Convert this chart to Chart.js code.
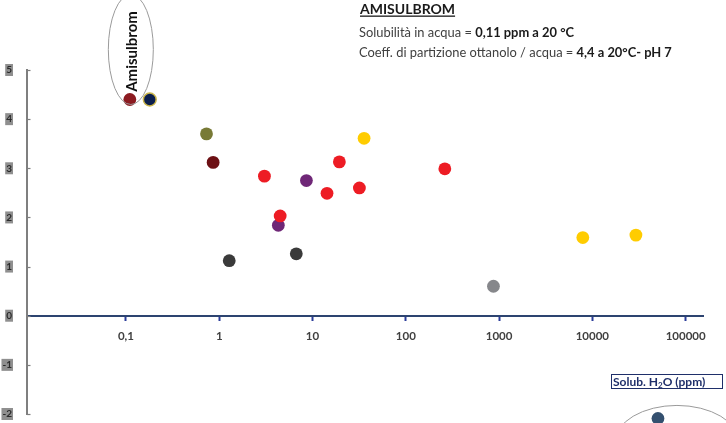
<!DOCTYPE html>
<html>
<head>
<meta charset="utf-8">
<script src="https://cdn.jsdelivr.net/npm/chart.js@4/dist/chart.umd.min.js"></script>
<style>
  html, body { margin: 0; padding: 0; background: #ffffff; }
  #wrap { width: 726px; height: 423px; position: relative; }
</style>
</head>
<body>
<div id="wrap"><canvas id="c" width="726" height="423"></canvas></div>
<script>
// Water solubility (ppm, log scale) against log Kow, one series per marker colour
const amisulbromX = [0.11];
const amisulbromY = [4.4];
const navyX = [0.18];
const navyY = [4.4];
const oliveX = [0.73];
const oliveY = [3.7];
const maroonX = [0.86];
const maroonY = [3.12];
const redX = [3.05, 4.5, 14.3, 19.4, 31.8, 262];
const redY = [2.84, 2.03, 2.49, 3.13, 2.6, 2.99];
const purpleX = [4.3, 8.6];
const purpleY = [1.84, 2.75];
const darkGreyX = [1.28, 6.7];
const darkGreyY = [1.12, 1.26];
const yellowX = [35.7, 7900, 29300];
const yellowY = [3.61, 1.59, 1.64];
const greyX = [870];
const greyY = [0.6];
const lowX = [50500];
const lowY = [-2.09];

const xTickValues = [0.1, 1, 10, 100, 1000, 10000, 100000];
const yMin = -2, yMax = 5;

const FONT = 'Lato, "Open Sans", sans-serif';

function pts(xs, ys) { return xs.map((x, i) => ({ x: x, y: ys[i] })); }
function series(label, xs, ys, color, extra) {
  return Object.assign({
    label: label,
    data: pts(xs, ys),
    backgroundColor: color,
    borderColor: color,
    borderWidth: 0,
    pointRadius: 6.4,
    pointHoverRadius: 6.4
  }, extra || {});
}

// Ellipses, callout text and the header block
const notes = {
  id: 'notes',
  afterDatasetsDraw(chart) {
    const ctx = chart.ctx;
    const xs = chart.scales.x, ys = chart.scales.y;

    // Amisulbrom callout
    const ax = xs.getPixelForValue(amisulbromX[0]);
    const ay = ys.getPixelForValue(amisulbromY[0]);
    ctx.save();
    ctx.strokeStyle = '#9a9a9a';
    ctx.lineWidth = 1;
    ctx.beginPath();
    ctx.ellipse(ax + 1, ay - 50, 22.5, 55, 0, 0, Math.PI * 2);
    ctx.stroke();
    ctx.translate(ax + 7, ay - 48);
    ctx.rotate(-Math.PI / 2);
    ctx.fillStyle = '#111111';
    ctx.font = 'bold 15px ' + FONT;
    ctx.textAlign = 'center';
    ctx.textBaseline = 'alphabetic';
    ctx.fillText('Amisulbrom', 0, 0);
    ctx.restore();

    // ellipse round the low point
    const lx = xs.getPixelForValue(lowX[0]);
    const ly = ys.getPixelForValue(lowY[0]);
    ctx.save();
    ctx.strokeStyle = '#9a9a9a';
    ctx.lineWidth = 1;
    ctx.beginPath();
    ctx.ellipse(lx + 19, ly + 24, 62, 37, 0, 0, Math.PI * 2);
    ctx.stroke();
    ctx.restore();

    // axis caption box
    ctx.save();
    ctx.strokeStyle = '#1f2f6a';
    ctx.lineWidth = 1;
    ctx.strokeRect(611.5, 374.5, 111, 14);
    ctx.fillStyle = '#1f2f6a';
    ctx.textBaseline = 'alphabetic';
    ctx.textAlign = 'left';
    ctx.font = 'bold 12px ' + FONT;
    let tx = 613;
    const by = 385.5;
    ctx.fillText('Solub. H', tx, by);
    tx += ctx.measureText('Solub. H').width;
    ctx.font = 'bold 8px ' + FONT;
    ctx.fillText('2', tx, by + 2.5);
    tx += ctx.measureText('2').width;
    ctx.font = 'bold 12px ' + FONT;
    ctx.fillText('O (ppm)', tx, by);
    ctx.restore();

    // header
    ctx.save();
    ctx.textAlign = 'left';
    ctx.textBaseline = 'alphabetic';
    ctx.fillStyle = '#1a1a1a';
    ctx.font = 'bold 14px ' + FONT;
    const t = 'AMISULBROM';
    ctx.fillText(t, 360, 13.5);
    const tw = ctx.measureText(t).width;
    ctx.fillRect(360, 15.5, tw, 1.3);

    function mixed(parts, x, y) {
      parts.forEach(p => {
        ctx.font = (p[1] ? 'bold ' : '') + '12.9px ' + FONT;
        ctx.fillStyle = p[1] ? '#1a1a1a' : '#404040';
        ctx.fillText(p[0], x, y);
        x += ctx.measureText(p[0]).width;
      });
    }
    mixed([['Solubilit\u00e0 in acqua = ', false], ['0,11 ppm a 20 \u00b0C', true]], 359, 36.5);
    mixed([['Coeff. di partizione ottanolo / acqua = ', false], ['4,4 a 20\u00b0C- pH 7', true]], 359, 56.5);
    ctx.restore();
  },
  afterDraw(chart) {
    // short inward tick marks on the vertical axis
    const ctx = chart.ctx;
    const ys = chart.scales.y;
    const left = chart.chartArea.left;
    ctx.save();
    ctx.strokeStyle = '#7f7f7f';
    ctx.lineWidth = 1.2;
    ys.ticks.forEach(tk => {
      const py = Math.round(ys.getPixelForValue(tk.value)) + 0.5;
      ctx.beginPath();
      ctx.moveTo(left, py);
      ctx.lineTo(left + 3.5, py);
      ctx.stroke();
    });
    ctx.restore();
  }
};

new Chart(document.getElementById('c'), {
  type: 'scatter',
  data: {
    datasets: [
      series('Amisulbrom', amisulbromX, amisulbromY, '#8c1b20'),
      series('navy', navyX, navyY, '#0b1e4d', { borderColor: '#c9b44a', borderWidth: 1.5 }),
      series('olive', oliveX, oliveY, '#787a36'),
      series('maroon', maroonX, maroonY, '#6c1014'),
      series('red', redX, redY, '#ed1c24'),
      series('purple', purpleX, purpleY, '#6f2777'),
      series('dark grey', darkGreyX, darkGreyY, '#3a3a3a'),
      series('yellow', yellowX, yellowY, '#ffcc00'),
      series('grey', greyX, greyY, '#86878b'),
      series('low', lowX, lowY, '#34506f', { clip: false })
    ]
  },
  options: {
    responsive: false,
    animation: false,
    events: [],
    layout: { padding: { left: 0, right: 23, top: 70, bottom: 9 } },
    plugins: {
      legend: { display: false },
      tooltip: { enabled: false },
      title: { display: false }
    },
    scales: {
      x: {
        type: 'logarithmic',
        position: { y: 0 },
        min: 0.00869,
        max: 153500,
        afterFit(scale) { scale.height = 0; },
        afterBuildTicks(scale) {
          scale.ticks = xTickValues.map(v => ({ value: v }));
        },
        ticks: {
          autoSkip: false,
          maxRotation: 0,
          padding: 10,
          color: '#404040',
          font: { family: FONT, size: 11.5, weight: 'bold' },
          callback(value) {
            return String(value).replace('.', ',');
          }
        },
        grid: {
          display: true,
          drawOnChartArea: false,
          drawTicks: true,
          tickLength: 4,
          tickWidth: 2,
          tickColor: '#2b3c9a'
        },
        border: { display: true, color: '#2d4470', width: 2 }
      },
      y: {
        type: 'linear',
        min: yMin,
        max: yMax,
        afterFit(scale) { scale.width = 27; },
        ticks: {
          stepSize: 1,
          padding: 0,
          color: '#2a2a2a',
          font: { family: FONT, size: 10, weight: 'bold' },
          showLabelBackdrop: true,
          backdropColor: '#8f8f8f',
          backdropPadding: { top: 0, bottom: 0, left: 1, right: 1 }
        },
        grid: {
          display: true,
          drawOnChartArea: false,
          drawTicks: true,
          tickLength: 15,
          tickColor: 'rgba(0,0,0,0)'
        },
        border: { display: true, color: '#7f7f7f', width: 2 }
      }
    }
  },
  plugins: [notes]
});
</script>
</body>
</html>
